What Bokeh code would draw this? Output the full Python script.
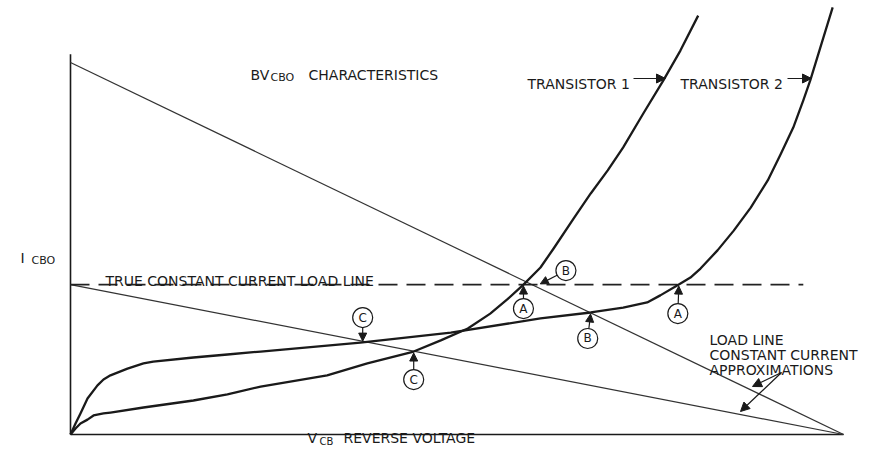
from bokeh.plotting import figure
from bokeh.models import Range1d, Label, Arrow, NormalHead, ColumnDataSource
from bokeh.core.properties import value
from bokeh.embed import file_html
from bokeh.resources import INLINE

# ---- data (V in % of open-circuit voltage, I in % of steep load-line intercept) ----
t1_v = [0, 0.65, 1.29, 2.20, 2.98, 4.27, 5.17, 9.44, 15.9, 20.3, 24.6, 33.2, 38.4, 44.4, 47.9, 51.4,
        54.3, 56.5, 58.6, 60.8, 62.5, 65.1, 67.3, 69.5, 71.5, 74.1, 76.7, 78.9, 81.2]
t1_i = [0, 1.6, 2.96, 4.0, 5.11, 5.65, 5.91, 7.26, 9.14, 10.8, 12.9, 15.9, 19.1, 22.3, 25.3, 28.5,
        32.5, 36.3, 40.3, 44.9, 50.0, 58.1, 64.8, 71.0, 77.2, 86.3, 95.2, 103.2, 112.6]

t2_v = [0, 0.65, 1.29, 2.20, 3.49, 4.27, 5.17, 7.37, 9.44, 10.7, 15.9, 20.3, 24.6, 37.5, 49.2, 60.8,
        67.3, 71.5, 74.6, 76.3, 78.7, 80.2, 81.5, 83.7, 85.8, 88.0, 90.2, 91.9, 93.5, 94.8, 95.7,
        97.0, 98.6]
t2_i = [0, 2.96, 5.65, 9.68, 13.2, 14.8, 15.9, 17.7, 19.1, 19.6, 20.7, 21.5, 22.3, 24.7, 27.4, 31.2,
        32.8, 34.1, 35.5, 37.4, 40.3, 42.2, 44.6, 49.5, 54.8, 61.0, 68.3, 75.5, 82.5, 89.8, 95.2,
        104.0, 114.8]

v_open = 100.0          # load lines meet the V axis here
i_steep = 100.0         # steep load line intercept on I axis
i_const = 40.3          # true constant-current level
v_dash_end = 94.8       # end of dashed constant-current line
i_axis_top = 102.2      # top of drawn I axis

# intersection points marked with circled letters (V, I)
mark_letters = ["C", "C", "A", "B", "B", "A"]
mark_v = [37.8, 44.4, 58.6, 60.6, 67.3, 78.7]
mark_i = [24.7, 22.3, 40.3, 40.3, 32.8, 40.3]

# ---- pixel helpers (reference geometry) ----
SX, SY = 7.73, 3.72
def vx(px):
    return (px - 70) / SX
def iy(py):
    return (434 - py) / SY

W, H = 859, 450
p = figure(width=W, height=H, output_backend="svg", toolbar_location=None,
           x_axis_type=None, y_axis_type=None, min_border=0,
           x_range=Range1d(vx(0), vx(W)), y_range=Range1d(iy(H), iy(0)))
p.grid.visible = False
p.outline_line_color = None
p.background_fill_color = "white"

INK = "#1a1a1a"
# axes
p.line([0, 0], [0, i_axis_top], line_color=INK, line_width=1.6)
p.line([0, v_open], [0, 0], line_color=INK, line_width=1.6)

# load lines
p.line([0, v_open], [i_steep, 0], line_color="#333333", line_width=1.2)
p.line([0, v_open], [i_const, 0], line_color="#333333", line_width=1.2)
p.line([0, v_dash_end], [i_const, i_const], line_color="#222222", line_width=1.6, line_dash="19 9")

# transistor curves
p.line(t1_v, t1_i, line_color=INK, line_width=2.3, line_join="round")
p.line(t2_v, t2_i, line_color=INK, line_width=2.3, line_join="round")

FONT = "DejaVu Sans"
def lab(x, y, t, size="14px", align="left", base="alphabetic"):
    p.add_layout(Label(x=x, y=y, text=t, text_font=FONT, text_font_size=size,
                       text_color=INK, text_align=align, text_baseline=base))

# titles / labels
lab(vx(250), iy(74), "BV")
lab(vx(270), iy(77), "CBO", size="11px")
lab(vx(308), iy(74), "CHARACTERISTICS")
lab(vx(527), iy(83), "TRANSISTOR 1")
lab(vx(680), iy(83), "TRANSISTOR 2")
lab(vx(20), iy(257), "I")
lab(vx(31), iy(260), "CBO", size="11px")
lab(vx(105), iy(280), "TRUE CONSTANT CURRENT LOAD LINE")
lab(vx(307), iy(437), "V")
lab(vx(319), iy(441), "CB", size="10px")
lab(vx(343), iy(437), "REVERSE VOLTAGE")
lab(vx(709), iy(339), "LOAD LINE")
lab(vx(709), iy(354), "CONSTANT CURRENT")
lab(vx(709), iy(369), "APPROXIMATIONS")

def arrow(x0, y0, x1, y1, size=9):
    p.add_layout(Arrow(end=NormalHead(size=size, fill_color=INK, line_color=INK, line_width=1),
                       x_start=vx(x0), y_start=iy(y0), x_end=vx(x1), y_end=iy(y1),
                       line_color=INK, line_width=1.2))

arrow(633, 78, 665, 78)
arrow(787, 78, 811, 78)
arrow(781, 372, 752, 386)
arrow(781, 372, 740, 411)

# circled-letter callouts (offsets from marked point, in pixels)
offs = [(0, -25), (0, 28), (0, 24), (27, -14), (-3, 26), (-1, 29)]
for L, v, i, (ox, oy) in zip(mark_letters, mark_v, mark_i, offs):
    px = 70 + v * SX
    py = 434 - i * SY
    cx, cy = px + ox, py + oy
    dx, dy = px - cx, py - cy
    d = (dx * dx + dy * dy) ** 0.5
    sx, sy = cx + dx / d * 10, cy + dy / d * 10
    ex, ey = px - dx / d * 1.5, py - dy / d * 1.5
    arrow(sx, sy, ex, ey, size=8)

circ_x = [vx(70 + v * SX + o[0]) for v, o in zip(mark_v, offs)]
circ_y = [iy(434 - i * SY + o[1]) for i, o in zip(mark_i, offs)]
src = ColumnDataSource(dict(x=circ_x, y=circ_y, t=mark_letters))
p.scatter("x", "y", source=src, marker="circle", size=20, fill_color="white",
          line_color=INK, line_width=1.2)
p.text("x", "y", text="t", source=src, text_font=value(FONT), text_font_size="12px",
       text_align="center", text_baseline="middle", text_color=INK)

open("out.html", "w").write(file_html(p, INLINE))
